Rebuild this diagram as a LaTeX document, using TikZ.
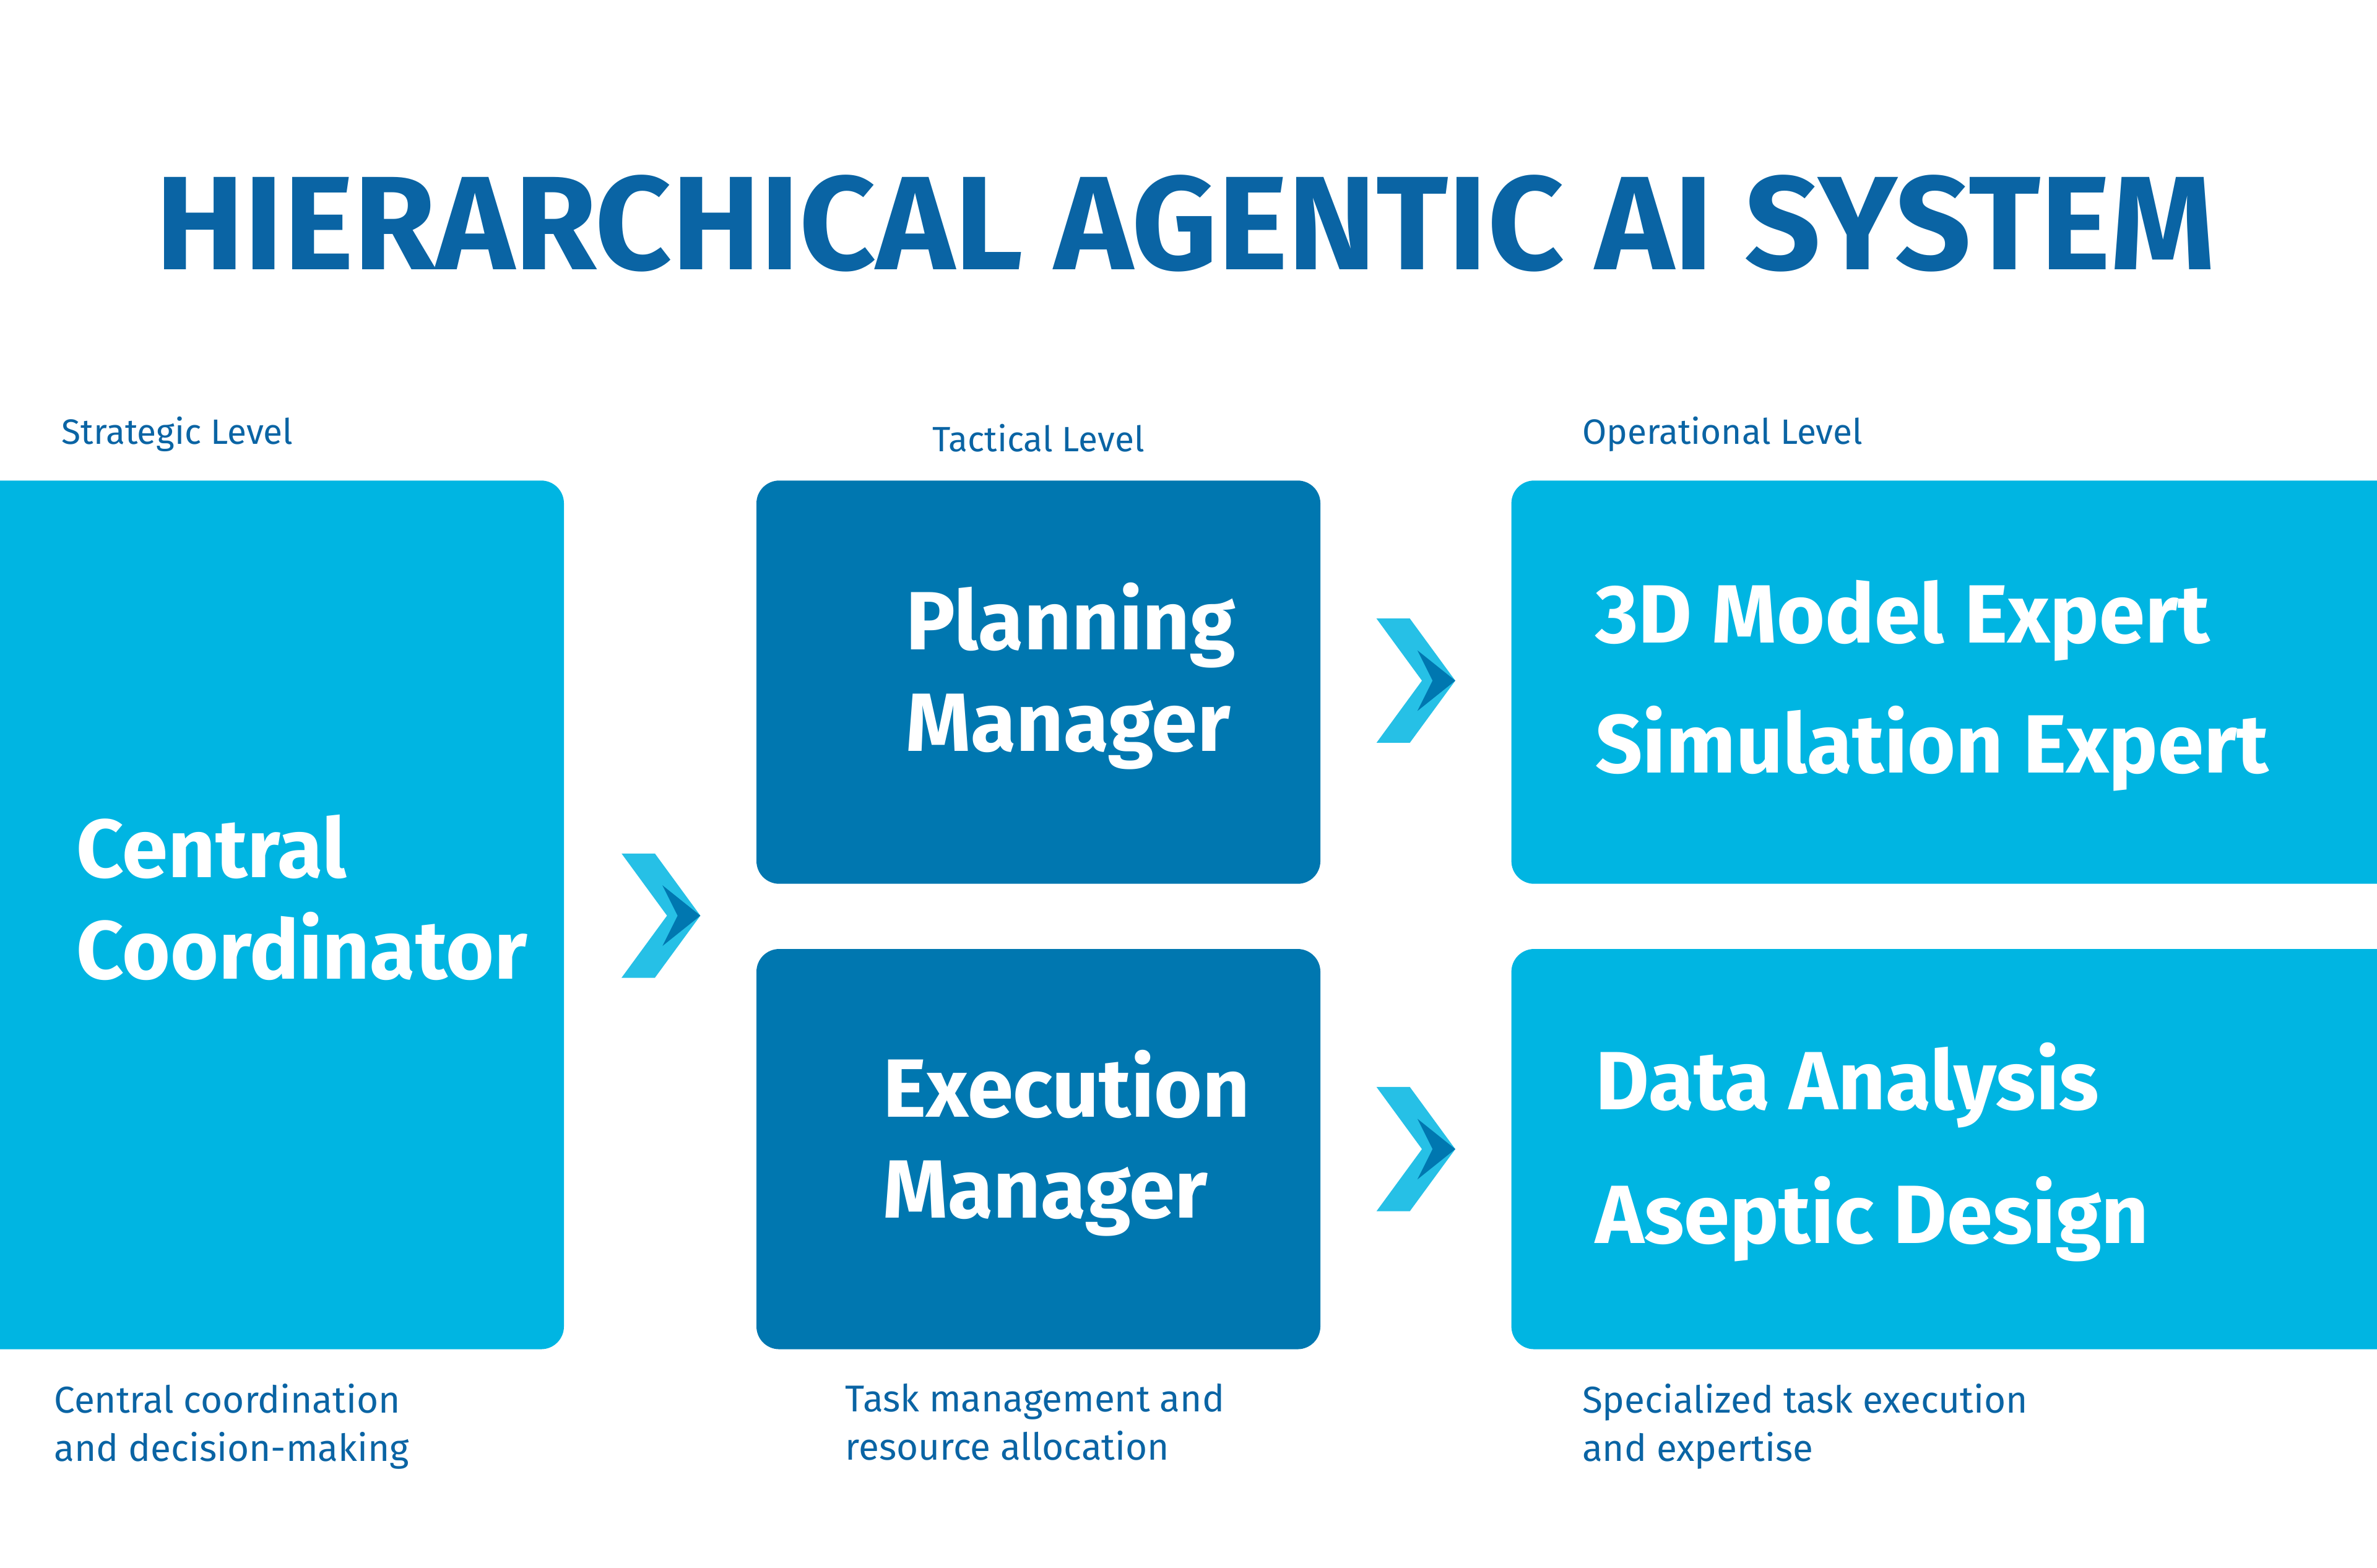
\documentclass[tikz,border=0pt]{standalone}
\usepackage{fontspec}
\setmainfont{Fira Sans}
\definecolor{lightb}{HTML}{00B5E2}
\definecolor{darkb}{HTML}{0077B0}
\definecolor{titleb}{HTML}{0A64A4}
\begin{document}
\begin{tikzpicture}[x=0.01cm,y=-0.01cm,
  box/.style={rounded corners=0.15cm,inner sep=0},
  boxtxt/.style={text=white,font=\fontsize{15.5}{20}\selectfont\bfseries,align=left,anchor=west},
  lvl/.style={text=titleb,font=\fontsize{6.6}{8}\selectfont,anchor=base west,inner sep=0},
  desc/.style={text=titleb,font=\fontsize{7}{9.1}\selectfont,align=left,anchor=north west,inner sep=0}]
\useasboundingbox (0,0) rectangle (1568,1034);
\node[text=titleb,font=\fontsize{25}{30}\selectfont\bfseries,anchor=base] (title) at (782,178) {HIERARCHICAL AGENTIC AI SYSTEM};
% boxes
\fill[lightb,box] (-30,317) rectangle (372,890);
\fill[darkb,box] (499,317) rectangle (871,583);
\fill[darkb,box] (499,626) rectangle (871,890);
\fill[lightb,box] (997,317) rectangle (1600,583);
\fill[lightb,box] (997,626) rectangle (1600,890);
\node[boxtxt] (cc) at (38,592) {Central\\[-1pt]Coordinator};
\node[boxtxt] (pm) at (585,446) {Planning\\[-1pt]Manager};
\node[boxtxt] (em) at (570,754) {Execution\\[-1pt]Manager};
\node[boxtxt,anchor=base west] (e1) at (1040,424) {3D Model Expert};
\node[boxtxt,anchor=base west] (e2) at (1040,510) {Simulation Expert};
\node[boxtxt,anchor=base west] (e3) at (1040,732) {Data Analysis};
\node[boxtxt,anchor=base west] (e4) at (1040,820) {Aseptic Design};
% chevrons
\foreach \cx/\cy in {410/604, 908/449, 908/758}{
  \fill[lightb!85!white] (\cx,\cy-41) -- (\cx+22,\cy-41) -- (\cx+52,\cy) -- (\cx+22,\cy+41) -- (\cx,\cy+41) -- (\cx+30,\cy) -- cycle;
  \fill[darkb] (\cx+27,\cy-20) -- (\cx+52,\cy) -- (\cx+27,\cy+20) -- (\cx+37,\cy) -- cycle;
}
% labels
\node[lvl] (l1) at (40,293) {Strategic Level};
\node[lvl,anchor=base] (l2) at (685,298) {Tactical Level};
\node[lvl] (l3) at (1043,293) {Operational Level};
\node[desc] (d1) at (35,912) {Central coordination\\and decision-making};
\node[desc] (d2) at (557,912) {Task management and\\resource allocation};
\node[desc] (d3) at (1043,912) {Specialized task execution\\and expertise};
\end{tikzpicture}
\end{document}
